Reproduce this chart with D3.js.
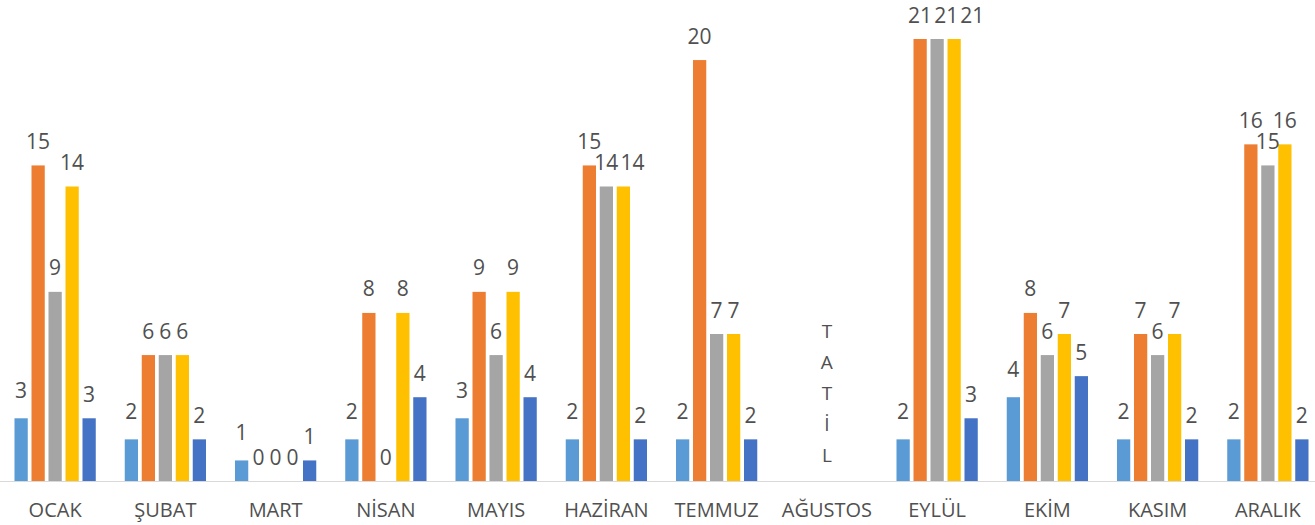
<!DOCTYPE html>
<html lang="tr">
<head>
<meta charset="utf-8">
<title>Aylık Dağılım</title>
<script src="https://cdn.jsdelivr.net/npm/d3@7"></script>
<style>
  html, body { margin: 0; padding: 0; background: #ffffff; }
  svg { display: block; }
</style>
</head>
<body>
<svg id="chart" width="1315" height="525"></svg>
<script>
// Months on the category axis
const months = ["OCAK", "ŞUBAT", "MART", "NİSAN", "MAYIS", "HAZİRAN", "TEMMUZ", "AĞUSTOS", "EYLÜL", "EKİM", "KASIM", "ARALIK"];

// Five series per month (null = no data, August is a holiday)
const series1 = [3, 2, 1, 2, 3, 2, 2, null, 2, 4, 2, 2];
const series2 = [15, 6, 0, 8, 9, 15, 20, null, 21, 8, 7, 16];
const series3 = [9, 6, 0, 0, 6, 14, 7, null, 21, 6, 6, 15];
const series4 = [14, 6, 0, 8, 9, 14, 7, null, 21, 7, 7, 16];
const series5 = [3, 2, 1, 4, 4, 2, 2, null, 3, 5, 2, 2];

const seriesNames = ["S1", "S2", "S3", "S4", "S5"];
const seriesColors = ["#5B9BD5", "#ED7D31", "#A5A5A5", "#FFC000", "#4472C4"];

// Vertical note placed on the holiday month
const holidayMonth = "AĞUSTOS";
const holidayText = "TATİL";

const allSeries = [series1, series2, series3, series4, series5];

const svg = d3.select("#chart");
const W = 1315, H = 525;
const baseY = 481.5;
const textColor = "#505050";
const fontFamily = "'Open Sans', 'Liberation Sans', sans-serif";

// Month bands (plot area runs slightly past the right edge)
const x0 = d3.scaleBand()
  .domain(months)
  .range([0, 1323])
  .paddingInner(0.229)
  .paddingOuter(0.1145);

// Series within each month
const x1 = d3.scaleBand()
  .domain(seriesNames)
  .range([0, x0.bandwidth()])
  .paddingInner(0.22)
  .paddingOuter(0.11);

const y = d3.scaleLinear()
  .domain([0, 21])
  .range([baseY, 39]);

// Flatten into bar records
const bars = [];
months.forEach((m, i) => {
  allSeries.forEach((s, k) => {
    if (s[i] !== null) bars.push({ month: m, series: seriesNames[k], k, value: s[i] });
  });
});

// Columns
svg.append("g")
  .selectAll("rect")
  .data(bars)
  .join("rect")
  .attr("x", d => x0(d.month) + x1(d.series))
  .attr("y", d => y(d.value))
  .attr("width", x1.bandwidth())
  .attr("height", d => baseY - y(d.value))
  .attr("fill", d => seriesColors[d.k]);

// Category axis line
svg.append("line")
  .attr("x1", 0).attr("x2", W)
  .attr("y1", baseY).attr("y2", baseY)
  .attr("stroke", "#D9D9D9")
  .attr("stroke-width", 1.2);

// Category labels via the axis generator
const xAxis = d3.axisBottom(x0).tickSize(0).tickPadding(0);
const axisG = svg.append("g")
  .attr("transform", `translate(0,${baseY})`)
  .call(xAxis);
axisG.select(".domain").remove();
axisG.selectAll("text")
  .attr("dy", null)
  .attr("y", 35.5)
  .attr("fill", textColor)
  .style("font-family", fontFamily)
  .style("font-size", "20px");

// Value labels above the columns
const labelGap = d => (d.k === 0 ? 20.5 : 16.5);
const labels = svg.append("g")
  .selectAll("text")
  .data(bars)
  .join("text")
  .attr("x", d => x0(d.month) + x1(d.series) + x1.bandwidth() / 2)
  .attr("y", d => y(d.value) - labelGap(d))
  .attr("text-anchor", "middle")
  .attr("fill", textColor)
  .style("font-family", fontFamily)
  .style("font-size", "21px")
  .text(d => d.value);

// Keep neighbouring labels at the same height from overlapping
labels.each(function (d) {
  d.cx = +this.getAttribute("x");
  d.ly = +this.getAttribute("y");
  d.w = this.getComputedTextLength();
});
months.forEach(m => {
  const row = labels.filter(d => d.month === m).nodes();
  for (let a = 1; a < row.length; a++) {
    const cur = d3.select(row[a]).datum();
    for (let b = 0; b < a; b++) {
      const prev = d3.select(row[b]).datum();
      if (Math.abs(prev.ly - cur.ly) < 14) {
        const minX = prev.cx + (prev.w + cur.w) / 2 + 2;
        if (cur.cx < minX) cur.cx = minX;
      }
    }
    d3.select(row[a]).attr("x", cur.cx);
  }
});

// Holiday note written vertically over its month
const hx = x0(holidayMonth) + x0.bandwidth() / 2;
svg.append("g")
  .selectAll("text")
  .data(Array.from(holidayText))
  .join("text")
  .attr("x", hx)
  .attr("y", (c, i) => 338 + i * 30.9)
  .attr("text-anchor", "middle")
  .attr("fill", textColor)
  .style("font-family", fontFamily)
  .style("font-size", "19px")
  .text(c => c);
</script>
</body>
</html>
